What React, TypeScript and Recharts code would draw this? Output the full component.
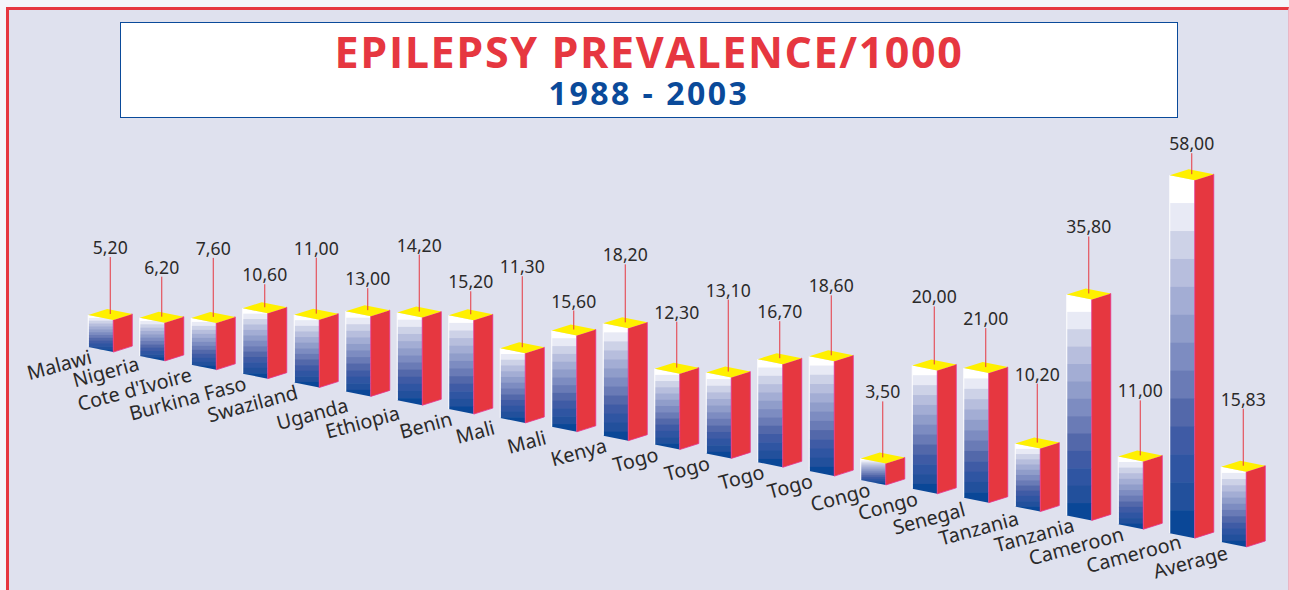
import React from 'react';
import { BarChart, Bar, XAxis, YAxis } from 'recharts';

const categories = [
  'Malawi', 'Nigeria', "Cote d'Ivoire", 'Burkina Faso', 'Swaziland', 'Uganda', 'Ethiopia', 'Benin',
  'Mali', 'Mali', 'Kenya', 'Togo', 'Togo', 'Togo', 'Togo', 'Congo', 'Congo', 'Senegal',
  'Tanzania', 'Tanzania', 'Cameroon', 'Cameroon', 'Average',
];

// printed figures above the bars
const valueLabels = [
  '5,20', '6,20', '7,60', '10,60', '11,00', '13,00', '14,20', '15,20', '11,30', '15,60', '18,20', '12,30',
  '13,10', '16,70', '18,60', '3,50', '20,00', '21,00', '10,20', '35,80', '11,00', '58,00', '15,83',
];

// bar heights as drawn; the Average bar is drawn shorter than its printed 15,83
const barValues = [
  5.2, 6.2, 7.6, 10.6, 11, 13, 14.2, 15.2, 11.3, 15.6, 18.2, 12.3,
  13.1, 16.7, 18.6, 3.5, 20, 21, 10.2, 35.8, 11, 58, 12.2,
];

// length of the red leader line under each figure, px
const leaderLengths = [
  58, 41, 60, 24, 57, 23, 58, 24, 72, 20, 59, 47, 73, 38, 61, 57, 59, 40, 60, 58, 56, 22, 58,
];

const bandColors = [
  '#ffffff', '#e8eaf5', '#cdd2e7', '#b7bedd', '#a3add4', '#909dca', '#7d8cc1',
  '#6a7bb6', '#5368aa', '#3f5ba5', '#2f55a2', '#22509c', '#0a4797',
];

// the slanted names were placed by hand in the original, so a few sit off the line
const tickNudges: Record<number, [number, number]> = {
  1: [-4, -2], 2: [-3, 0], 5: [-1, 4], 6: [-1, 3], 8: [-9, 0], 9: [-9, 1], 13: [3, 0],
  15: [6, 0], 16: [2, 0], 17: [-2, 2], 18: [0, 2], 19: [4, 0], 20: [2, 0], 21: [8, -1], 22: [3, 1],
};

const data = categories.map((name, i) => ({ name, value: barValues[i] }));

const RED = '#e63740';
const BLUE = '#0a4a9a';
const INK = '#2b2a2a';
const FONT = '"Noto Sans", "Open Sans", sans-serif';

const GROUND_STEP = 8.86; // each bar sits lower than the previous one
const FRONT_W = 25;
const DROP = 5;
const RISE = 6;
const lastIndex = categories.length - 1;
const groundShift = (index: number) => (lastIndex - index) * GROUND_STEP;

function Box3D(props: any) {
  const { x, y, width, height, index } = props;
  const sideW = width - FRONT_W;
  const yTop = y - groundShift(index);
  const yBot = yTop + height;
  const xF = x + FRONT_W;
  const xR = x + width;
  const bandH = (height + DROP) / bandColors.length;
  const clipId = `front-${index}`;
  const topX = x + sideW + 3;
  const topY = yTop - 1;
  const leader = leaderLengths[index] - 1;

  return (
    <g>
      <clipPath id={clipId}>
        <polygon points={`${x},${yTop} ${xF},${yTop + DROP} ${xF},${yBot + DROP} ${x},${yBot}`} />
      </clipPath>
      <g clipPath={`url(#${clipId})`}>
        {bandColors.map((c, b) => (
          <rect key={c} x={x} y={yTop + b * bandH} width={FRONT_W} height={bandH + 0.5} fill={c} />
        ))}
      </g>
      <line x1={x} y1={yTop} x2={x} y2={yBot} stroke="#ffffff" strokeWidth={1} />
      <polygon
        points={`${xF},${yTop + DROP} ${xR},${yTop + DROP - RISE} ${xR},${yBot + DROP - RISE} ${xF},${yBot + DROP}`}
        fill={RED}
        stroke="#e8308c"
        strokeWidth={0.8}
      />
      <polygon
        points={`${x},${yTop} ${xF},${yTop + DROP} ${xR},${yTop + DROP - RISE} ${x + sideW},${yTop - RISE}`}
        fill="#fff000"
      />
      <line x1={topX} y1={topY} x2={topX} y2={topY - leader} stroke={RED} strokeWidth={1} />
      <text x={topX} y={topY - leader - 3} textAnchor="middle" fontFamily={FONT} fontSize={17.6} fill={INK}>
        {valueLabels[index]}
      </text>
    </g>
  );
}

function CategoryTick(props: any) {
  const { x, y, payload, index } = props;
  const [dx, dy] = tickNudges[index] ?? [0, 0];
  // x is the band centre, y just under the plot's bottom edge
  const px = x - 17 + dx;
  const py = y + 8 - groundShift(index) + dy;
  return (
    <text
      x={px}
      y={py}
      textAnchor="end"
      fontFamily={FONT}
      fontSize={19.8}
      fill={INK}
      transform={`rotate(-15 ${px} ${py})`}
    >
      {payload.value}
    </text>
  );
}

export default function App() {
  return (
    <div style={{ position: 'absolute', left: 0, top: 0, width: 1289, height: 590, overflow: 'hidden', background: '#f4f5fa' }}>
      <div
        style={{
          position: 'absolute',
          left: 6,
          top: 7,
          width: 1283,
          height: 590,
          boxSizing: 'border-box',
          background: '#dfe1ee',
          borderLeft: `3px solid ${RED}`,
          borderTop: `3px solid ${RED}`,
          borderRight: '1px solid #eab4c4',
        }}
      />
      <div
        style={{
          position: 'absolute',
          left: 120,
          top: 22,
          width: 1058,
          height: 96,
          boxSizing: 'border-box',
          background: '#ffffff',
          border: `1px solid ${BLUE}`,
          textAlign: 'center',
          fontFamily: '"Open Sans", sans-serif',
          fontWeight: 700,
        }}
      >
        <div style={{ position: 'absolute', left: 0, right: 0, top: 6, fontSize: 43, lineHeight: '46px', color: RED, letterSpacing: 1.6 }}>
          EPILEPSY PREVALENCE/1000
        </div>
        <div style={{ position: 'absolute', left: 0, right: 0, top: 53, fontSize: 32, lineHeight: '34px', color: BLUE, letterSpacing: 2.5 }}>
          1988 - 2003
        </div>
      </div>
      <div style={{ position: 'absolute', left: 0, top: 0 }}>
        <BarChart
          width={1289}
          height={590}
          data={data}
          barSize={44}
          margin={{ top: 110, right: 20.25, bottom: 18, left: 84.25 }}
        >
          <XAxis dataKey="name" height={30} interval={0} axisLine={false} tickLine={false} tick={<CategoryTick />} />
          <YAxis hide domain={[0, 70]} />
          <Bar dataKey="value" shape={<Box3D />} isAnimationActive={false} />
        </BarChart>
      </div>
    </div>
  );
}
